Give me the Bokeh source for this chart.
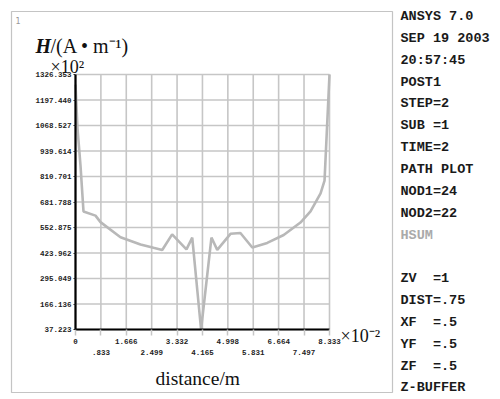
from bokeh.plotting import figure
from bokeh.models import FixedTicker, LinearAxis, Label, Range1d, BoxAnnotation
from bokeh.embed import file_html
from bokeh.resources import INLINE

# ---------------- data ----------------
distance = [0.0, 0.066, 0.164, 0.262, 0.656, 0.82, 1.476, 2.133, 2.559, 2.845,
            3.17, 3.64, 3.83, 4.12, 4.46, 4.65, 5.085, 5.41, 5.80, 6.29,
            6.83, 7.38, 7.71, 8.04, 8.17, 8.333]
hsum = [1275.0, 1053.0, 866.0, 634.0, 613.0, 580.0, 504.0, 467.0, 450.0, 439.0,
        518.0, 442.0, 502.0, 37.223, 502.0, 440.0, 521.0, 525.0, 452.0, 475.0,
        515.0, 578.0, 634.0, 725.0, 790.0, 1326.353]

x_ticks = [0.0, 0.833, 1.666, 2.499, 3.332, 4.165, 4.998, 5.831, 6.664, 7.497, 8.333]
x_labels = ["0", ".833", "1.666", "2.499", "3.332", "4.165", "4.998", "5.831",
            "6.664", "7.497", "8.333"]
y_ticks = [37.223, 166.136, 295.049, 423.962, 552.875, 681.788, 810.701,
           939.614, 1068.527, 1197.440, 1326.353]
y_labels = ["37.223", "166.136", "295.049", "423.962", "552.875", "681.788",
            "810.701", "939.614", "1068.527", "1197.440", "1326.353"]

NB = "\u00a0"
info_lines = ["ANSYS 7.0", "SEP 19 2003", "20:57:45", "POST1", "STEP=2", "SUB =1",
              "TIME=2", "PATH PLOT", "NOD1=24", "NOD2=22", "HSUM", "",
              "ZV" + NB * 2 + "=1", "DIST=.75", "XF" + NB * 2 + "=.5",
              "YF" + NB * 2 + "=.5", "ZF" + NB * 2 + "=.5", "Z-BUFFER"]

# ---------------- layout (canvas pixels) ----------------
W, H = 500, 399
FX0, FX1, FY0, FY1 = 0, W, 0, H              # plot frame = whole canvas
BL, BR, BT, BB = 11, 392, 11, 392            # black box
CL, CR, CT, CB = 75, 329, 74, 329            # chart area inside the box
XMIN, XMAX = x_ticks[0], x_ticks[-1]
YMIN, YMAX = y_ticks[0], y_ticks[-1]
sx = (XMAX - XMIN) / (CR - CL)
sy = (YMAX - YMIN) / (CB - CT)
x_start = XMIN - (CL - FX0) * sx
x_end = XMAX + (FX1 - CR) * sx
y_start = YMIN - (FY1 - CB) * sy
y_end = YMAX + (CT - FY0) * sy


def px(cx):
    return x_start + (cx - FX0) * sx


def py(cy):
    return y_end - (cy - FY0) * sy


p = figure(width=W, height=H, x_range=Range1d(x_start, x_end),
           y_range=Range1d(y_start, y_end), output_backend="svg",
           toolbar_location=None, x_axis_type=None, y_axis_type=None,
           min_border=0)
p.background_fill_color = "white"
p.border_fill_color = "white"
p.outline_line_color = None
p.xgrid.visible = False
p.ygrid.visible = False

p.add_layout(BoxAnnotation(left=px(BL), right=px(BR), top=py(BT), bottom=py(BB),
                           fill_color=None, line_color="#3a3a3a", line_width=1.2))

GRID = "#c6c6c6"
# grid lines
p.segment(x0=x_ticks, y0=[YMIN] * len(x_ticks), x1=x_ticks, y1=[YMAX] * len(x_ticks),
          line_color=GRID, line_width=1.6)
p.segment(x0=[XMIN] * len(y_ticks), y0=y_ticks, x1=[XMAX] * len(y_ticks), y1=y_ticks,
          line_color=GRID, line_width=1.6)

# curve
p.line(distance, hsum, line_color="#b8b8b8", line_width=2.6)

TICK_FONT = "Liberation Mono"

# x axis, first row of labels (even ticks)
xa1 = LinearAxis(fixed_location=YMIN, bounds=(XMIN, XMAX),
                 ticker=FixedTicker(ticks=x_ticks[0::2]))
xa1.major_label_overrides = {t: l for t, l in zip(x_ticks, x_labels)}
xa1.axis_line_color = "black"
xa1.axis_line_width = 2.2
xa1.major_tick_out = 6
xa1.major_tick_in = 0
xa1.major_tick_line_color = GRID
xa1.major_tick_line_width = 1.5
xa1.minor_tick_line_color = None
xa1.major_label_standoff = 3
xa1.major_label_text_font = TICK_FONT
xa1.major_label_text_font_size = "7.5px"
xa1.major_label_text_font_style = "bold"
xa1.major_label_text_color = "#222222"
p.add_layout(xa1, "below")

# x axis, second row of labels (odd ticks)
xa2 = LinearAxis(fixed_location=YMIN, bounds=(XMIN, XMAX),
                 ticker=FixedTicker(ticks=x_ticks[1::2]))
xa2.major_label_overrides = {t: l for t, l in zip(x_ticks, x_labels)}
xa2.axis_line_color = None
xa2.major_tick_out = 6
xa2.major_tick_in = 0
xa2.major_tick_line_color = GRID
xa2.major_tick_line_width = 1.5
xa2.minor_tick_line_color = None
xa2.major_label_standoff = 14
xa2.major_label_text_font = TICK_FONT
xa2.major_label_text_font_size = "7.5px"
xa2.major_label_text_font_style = "bold"
xa2.major_label_text_color = "#222222"
p.add_layout(xa2, "below")

# y axis
ya = LinearAxis(fixed_location=XMIN, bounds=(YMIN, YMAX),
                ticker=FixedTicker(ticks=y_ticks))
ya.major_label_overrides = {t: l for t, l in zip(y_ticks, y_labels)}
ya.axis_line_color = "black"
ya.axis_line_width = 2.2
ya.major_tick_out = 2
ya.major_tick_in = 0
ya.major_tick_line_color = "#222222"
ya.minor_tick_line_color = None
ya.major_label_standoff = 2
ya.major_label_text_font = TICK_FONT
ya.major_label_text_font_size = "7.5px"
ya.major_label_text_font_style = "bold"
ya.major_label_text_color = "#222222"
p.add_layout(ya, "left")

SERIF = "Liberation Serif"


def add_text(cx, cy, text, size, font=SERIF, style="normal", color="#111111",
             align="left", baseline="alphabetic"):
    p.add_layout(Label(x=px(cx), y=py(cy), text=text, text_font=font,
                       text_font_size=size, text_font_style=style,
                       text_color=color, text_align=align,
                       text_baseline=baseline))


add_text(15, 20, "1", "8px", font="DejaVu Sans", color="#999999")
add_text(35, 45, "H", "20px", style="bold italic")
add_text(50, 45, "/(A \u2022 m\u207b\u00b9)", "20px")
add_text(50, 66, "\u00d710\u00b2", "18px")
add_text(340, 335, "\u00d710\u207b\u00b2", "18px")
add_text(155, 378, "distance/m", "19.5px")

# info panel right of the box
for i, line in enumerate(info_lines):
    if not line:
        continue
    col = "#aaaaaa" if line == "HSUM" else "#1a1a1a"
    add_text(400, 16 + 21.85 * i, line, "13.5px", font=TICK_FONT, style="bold",
             color=col)

open("out.html", "w").write(file_html(p, INLINE))
